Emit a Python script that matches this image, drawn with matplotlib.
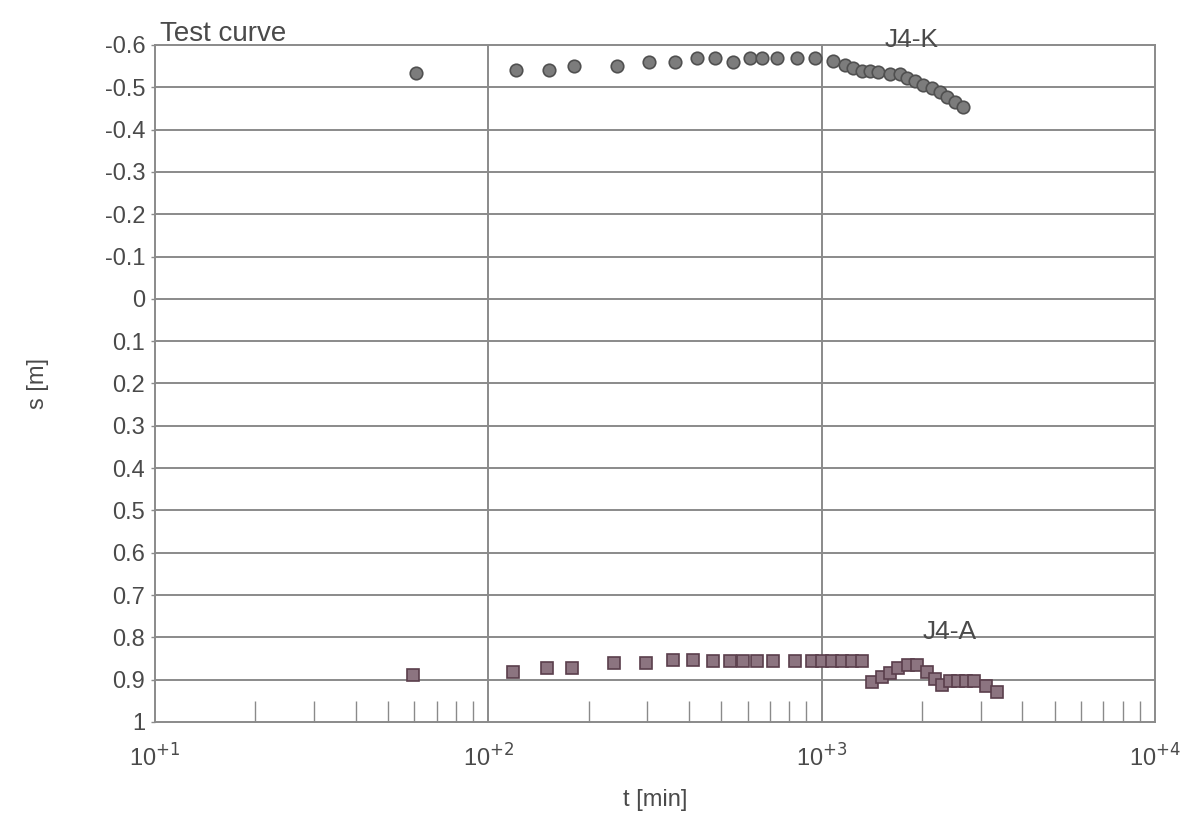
import matplotlib.pyplot as plt
from matplotlib.ticker import FixedLocator, LogLocator, NullFormatter

# J4-K observation well (circles)
t_k = [60.7, 121, 152, 181, 243, 303, 363, 423, 479, 542, 610, 662, 735, 844,
       955, 1082, 1175, 1242, 1322, 1397, 1476, 1604, 1719, 1804, 1906, 2014,
       2143, 2265, 2378, 2513, 2655]
s_k = [-0.534, -0.541, -0.541, -0.550, -0.550, -0.560, -0.560, -0.569, -0.569,
       -0.560, -0.569, -0.569, -0.569, -0.569, -0.569, -0.562, -0.553, -0.546,
       -0.539, -0.539, -0.536, -0.531, -0.531, -0.522, -0.515, -0.505, -0.498,
       -0.489, -0.477, -0.465, -0.453]

# J4-A observation well (squares)
t_a = [59.4, 118.6, 150, 178, 238, 297, 358, 411, 472, 531, 581, 640, 715, 832,
       936, 1003, 1074, 1151, 1234, 1322, 1416, 1518, 1604, 1695, 1816, 1932,
       2071, 2188, 2297, 2428, 2565, 2711, 2865, 3112, 3358]
s_a = [0.889, 0.882, 0.873, 0.873, 0.861, 0.861, 0.853, 0.853, 0.855, 0.855,
       0.855, 0.855, 0.855, 0.855, 0.855, 0.855, 0.855, 0.855, 0.855, 0.855,
       0.905, 0.894, 0.885, 0.873, 0.866, 0.866, 0.882, 0.899, 0.912, 0.904,
       0.902, 0.902, 0.902, 0.916, 0.930]

y_ticks = [-0.6, -0.5, -0.4, -0.3, -0.2, -0.1, 0, 0.1, 0.2, 0.3, 0.4, 0.5,
           0.6, 0.7, 0.8, 0.9, 1]
y_labels = ["-0.6", "-0.5", "-0.4", "-0.3", "-0.2", "-0.1", "0", "0.1", "0.2",
            "0.3", "0.4", "0.5", "0.6", "0.7", "0.8", "0.9", "1"]
x_ticks = [10, 100, 1000, 10000]
x_labels = ["10$^{+1}$", "10$^{+2}$", "10$^{+3}$", "10$^{+4}$"]

plt.rcParams['font.family'] = ['Liberation Sans', 'DejaVu Sans']
txt = '#4a4a4a'
grid_c = '#8a8a8a'

fig = plt.figure(figsize=(11.88, 8.21), dpi=100)
ax = fig.add_axes([0.1305, 0.1206, 0.8417, 0.8246])

ax.set_xscale('log')
ax.set_xlim(10, 10000)
ax.set_ylim(1, -0.6)

# horizontal grid every 0.1, vertical only at the inner decades
for y in y_ticks[1:-1]:
    ax.axhline(y, color=grid_c, lw=1.4, zorder=1)
for x in x_ticks[1:-1]:
    ax.axvline(x, color=grid_c, lw=1.4, zorder=1)

ax.plot(t_k, s_k, 'o', ms=9, mfc='#7c7c7c', mec='#505050', mew=1.2, zorder=3)
ax.plot(t_a, s_a, 's', ms=8, mfc='#8c7480', mec='#5a3e4c', mew=1.2, zorder=3)

for sp in ax.spines.values():
    sp.set_color(grid_c)
    sp.set_linewidth(1.4)

ax.yaxis.set_major_locator(FixedLocator(y_ticks))
ax.set_yticklabels(y_labels)
ax.xaxis.set_major_locator(FixedLocator(x_ticks))
ax.set_xticklabels(x_labels)
ax.xaxis.set_minor_locator(LogLocator(base=10, subs=range(2, 10)))
ax.xaxis.set_minor_formatter(NullFormatter())

ax.tick_params(axis='y', which='major', direction='out', length=3, width=1,
               color=grid_c, labelsize=17, labelcolor=txt, pad=4)
ax.tick_params(axis='x', which='major', length=0, labelsize=17,
               labelcolor=txt, pad=16)
ax.tick_params(axis='x', which='minor', direction='in', length=15, width=1,
               color=grid_c)

ax.set_xlabel('t [min]', fontsize=17, color=txt, labelpad=13)
ax.set_ylabel('s [m]', fontsize=17, color=txt, labelpad=40)

fig.text(0.135, 0.943, 'Test curve', fontsize=20, color=txt, ha='left',
         va='bottom')
ax.text(1866, -0.612, 'J4-K', fontsize=19, color=txt, ha='center',
        va='center')
ax.text(2427, 0.788, 'J4-A', fontsize=19, color=txt, ha='center',
        va='center')

fig.savefig('out.png', dpi=100)
